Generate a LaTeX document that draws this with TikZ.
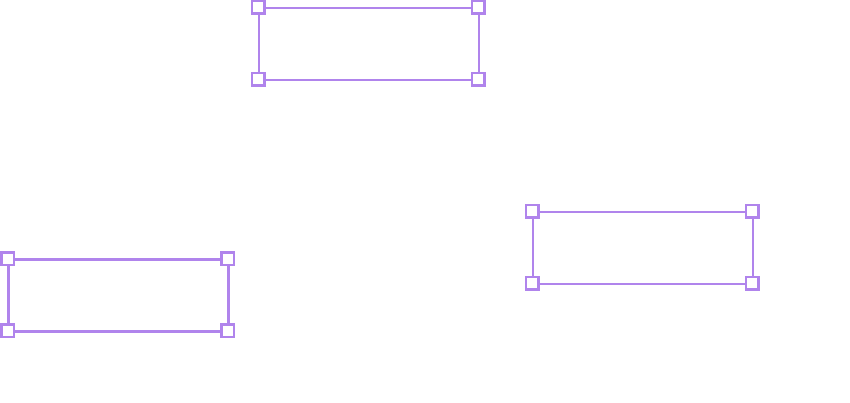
\documentclass[tikz,border=0pt]{standalone}
\begin{document}
\begin{tikzpicture}[x=1pt,y=-1pt,
  selbox/.style={draw=selpurple, fill=none, inner sep=0pt, outer sep=0pt, minimum width=220pt, minimum height=72pt, line width=2.4pt},
  handle/.style={draw=selpurple, fill=white, inner sep=0pt, outer sep=0pt, minimum size=12.5pt, line width=2.4pt}]
\definecolor{selpurple}{RGB}{176,132,236}
\useasboundingbox (0,0) rectangle (850,403);
\node[selbox] (top) at (369,44) {};
\node[selbox] (right) at (643,248) {};
\node[selbox] (left) at (118.5,295.5) {};
\foreach \b in {top,right,left}{
  \node[handle] (\b-nw) at ([shift={(-0.7,-0.7)}]\b.north west) {};
  \node[handle] (\b-ne) at ([shift={(-0.7,-0.7)}]\b.north east) {};
  \node[handle] (\b-sw) at ([shift={(-0.7,-0.7)}]\b.south west) {};
  \node[handle] (\b-se) at ([shift={(-0.7,-0.7)}]\b.south east) {};
}
\end{tikzpicture}
\end{document}
